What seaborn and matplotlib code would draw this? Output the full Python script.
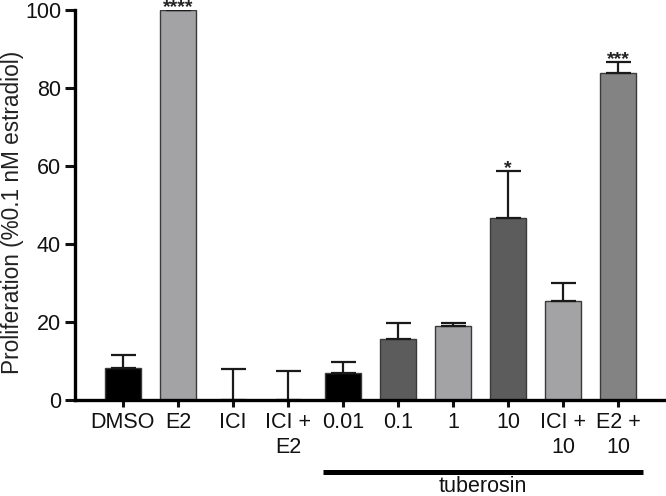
import matplotlib
matplotlib.use("Agg")
import matplotlib.pyplot as plt
import seaborn as sns
import numpy as np

groups = ["DMSO", "E2", "ICI", "ICI +\nE2", "0.01", "0.1", "1", "10", "ICI +\n10", "E2 +\n10"]
means = [8.2, 100, 0, 0, 7.0, 15.6, 19.1, 46.7, 25.3, 83.9]
errs = [3.4, 0, 8.0, 7.5, 2.8, 4.2, 0.7, 12.1, 4.7, 2.8]
stars = ["", "****", "", "", "", "", "", "*", "", "***"]
colors = ["#000000", "#a2a2a6", "#ffffff", "#ffffff", "#000000",
          "#5c5c5c", "#a2a2a6", "#5c5c5c", "#a2a2a6", "#838383"]

sns.set_style("ticks")
plt.rcParams["font.family"] = ["Liberation Sans", "DejaVu Sans"]

fig = plt.figure(figsize=(6.66, 4.96), dpi=100)
ax = fig.add_axes([75 / 666, 96 / 496, 591 / 666, 390 / 496])

sns.barplot(x=groups, y=means, hue=groups, palette=colors, legend=False,
            width=0.66, edgecolor="#3a3a3a", linewidth=1.0, ax=ax)

x = np.arange(len(groups))
ax.errorbar(x, means, yerr=[np.zeros(len(errs)), errs], fmt="none",
            ecolor="#1a1a1a", elinewidth=1.6, capsize=9, capthick=1.6, zorder=1)

for xi, m, e, s in zip(x, means, errs, stars):
    if s:
        ax.text(xi, m + e + 2.7, s, ha="center", va="top", fontsize=14,
                fontweight="bold", color="#222222", clip_on=False)

ax.set_xlim(-0.87, 9.87)
ax.set_ylim(0, 100)
ax.set_yticks([0, 20, 40, 60, 80, 100])
ax.set_ylabel("Proliferation (%0.1 nM estradiol)", fontsize=16.3, color="#222222",
              labelpad=1, y=0.48)
ax.tick_params(axis="y", length=7, width=2.2, labelsize=15.5, pad=3, colors="#111111")
ax.tick_params(axis="x", length=5, width=2.2, labelsize=15.5, pad=4, colors="#111111")
for lbl in ax.get_xticklabels():
    lbl.set_multialignment("center")
for sp in ["top", "right"]:
    ax.spines[sp].set_visible(False)
for sp in ["left", "bottom"]:
    ax.spines[sp].set_linewidth(2.4)
    ax.spines[sp].set_color("#000000")

# tuberosin bracket under the treated groups
trans = ax.get_xaxis_transform()
ax.plot([3.63, 9.45], [-0.184, -0.184], color="black", lw=3.6,
        transform=trans, clip_on=False, solid_capstyle="butt")
ax.text((3.63 + 9.45) / 2, -0.195, "tuberosin", transform=trans, ha="center",
        va="top", fontsize=15.5, color="#111111")

fig.savefig("out.png", dpi=100)
